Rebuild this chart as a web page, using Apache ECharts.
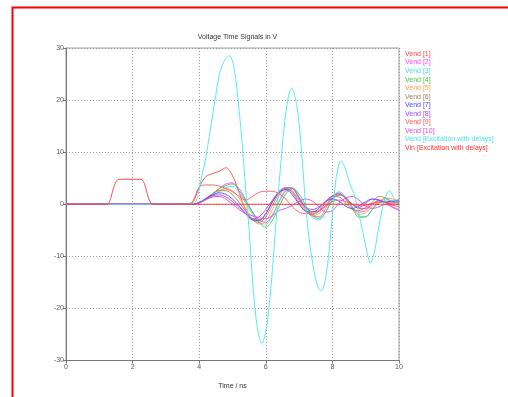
<!DOCTYPE html>
<html><head><meta charset="utf-8">
<script src="https://cdn.jsdelivr.net/npm/echarts@6/dist/echarts.min.js"></script>
<style>html,body{margin:0;padding:0;background:#fff}#c{width:508px;height:397px}</style>
</head><body><div id="c"></div>
<script>
const FONT = "'Liberation Sans',Arial,sans-serif";
const titleText = 'Voltage Time Signals in V';
const xName = 'Time / ns';
const xTicks = [0, 2, 4, 6, 8, 10];
const yTicks = [-30, -20, -10, 0, 10, 20, 30];
const seriesNames = ['Vend [1]','Vend [2]','Vend [3]','Vend [4]','Vend [5]','Vend [6]','Vend [7]','Vend [8]','Vend [9]','Vend [10]','Vend [Excitation with delays]','Vin [Excitation with delays]'];
const seriesColors = ['#ff4848','#ff48ff','#48e0e0','#48c848','#ffa048','#a88058','#4848ff','#a048ff','#ff5858','#e048e0','#48e8e8','#ff3030'];

// time grid (ns) for Vend [1..10]
const tVend = [0,3.6,3.8,4.0,4.2,4.4,4.6,4.8,5.0,5.2,5.4,5.6,5.8,6.0,6.2,6.4,6.6,6.8,7.0,7.2,7.4,7.6,7.8,8.0,8.2,8.4,8.6,8.8,9.0,9.2,9.4,9.6,9.8,10.0];
const vend1  = [0,0,0.3,3.3,5.3,5.9,6.3,7.0,5.5,2.2,-1.2,-2.9,-3.0,-1.8,0.5,2.2,3.0,2.4,0.8,-0.6,-1.4,-1.3,-0.2,1.2,1.8,1.2,0.0,-0.8,-0.8,0.0,0.6,0.4,-0.2,-0.4];
const vend2  = [0,0,0,0.3,1.0,2.0,3.0,3.9,4.1,2.6,0.5,-1.5,-3.0,-3.5,-2.0,0.5,2.5,3.0,1.2,-1.0,-2.2,-2.4,-0.8,1.5,2.2,1.0,-0.6,-1.5,-1.2,0.0,0.8,0.3,-0.6,-1.2];
const vend3  = [0,0,0,0.2,0.8,1.6,2.4,3.2,3.4,2.2,0.2,-2.0,-3.6,-3.8,-2.2,0.6,2.8,3.2,1.5,-0.8,-2.5,-3.0,-1.5,1.2,2.4,1.5,-0.5,-2.2,-2.4,-1.0,0.5,1.0,0.6,0.3];
const vend4  = [0,0,0,0.3,1.0,2.0,3.0,3.6,3.9,3.0,0.8,-1.5,-3.5,-4.4,-3.0,-0.5,2.0,3.0,2.0,-0.3,-2.2,-2.7,-1.5,0.8,1.8,1.2,-0.8,-2.5,-2.4,-1.0,0.3,0.6,0.5,0.5];
const vend5  = [0,0,0,0.3,1.1,2.0,2.7,3.0,2.6,1.2,-0.8,-2.8,-3.8,-3.2,-1.0,1.5,3.0,2.6,0.8,-1.2,-2.2,-1.8,-0.3,1.5,2.0,1.0,-0.8,-1.9,-1.6,-0.5,0.5,1.2,1.0,0.8];
const vend6  = [0,0,0,0.3,1.1,2.0,2.6,2.6,1.8,0.4,-1.4,-3.0,-3.5,-2.4,-0.2,2.0,3.0,2.2,0.2,-1.5,-2.0,-1.3,0.3,1.5,1.4,0.2,-1.0,-1.2,-0.6,0.4,1.5,1.2,0.4,0.3];
const vend7  = [0,0,0,0.3,1.1,1.8,2.2,1.9,1.0,-0.3,-1.8,-3.0,-3.1,-1.8,0.5,2.3,2.8,1.8,0.0,-1.3,-1.5,-0.8,0.5,1.0,0.6,-0.4,-0.8,-0.3,0.5,1.0,0.8,0.4,0.6,0.8];
const vend8  = [0,0,0,0.3,1.0,1.6,1.8,1.4,0.5,-0.6,-1.9,-2.8,-2.4,-1.0,0.8,2.5,3.2,3.0,1.2,-0.6,-1.0,-0.5,0.6,1.6,2.0,1.2,0.0,-0.6,0.2,1.0,0.8,0.3,0.5,0.4];
const vend9  = [0,0,0.5,3.3,3.7,3.7,3.5,3.0,2.4,1.5,0.8,1.5,2.3,2.5,2.5,2.0,1.0,-0.5,-1.5,-1.8,-1.8,-1.2,-0.3,0.5,0.8,0.5,0.0,-0.3,-0.2,0.2,0.4,0.3,0.1,0.0];
const vend10 = [0,0,0,0.3,0.9,1.4,1.5,1.0,0.0,-1.0,-1.8,-2.2,-2.6,-2.8,-2.2,-1.2,-0.8,-0.2,0.6,1.0,0.6,-0.5,-1.5,-1.2,0.2,1.2,1.5,0.8,-0.3,-0.8,-0.5,0.0,-0.5,-1.0];

// Vend [Excitation with delays]
const tExc = [0,3.7,3.9,4.0,4.05,4.2,4.4,4.6,4.7,4.8,4.9,5.0,5.1,5.2,5.3,5.4,5.5,5.6,5.7,5.8,5.88,6.0,6.1,6.2,6.3,6.4,6.5,6.6,6.7,6.78,6.9,7.0,7.1,7.2,7.3,7.4,7.5,7.6,7.68,7.8,7.9,8.0,8.1,8.2,8.25,8.35,8.45,8.55,8.65,8.75,8.85,8.95,9.05,9.14,9.25,9.35,9.45,9.55,9.65,9.72,9.8,9.9,10.0];
const vExc = [0,0,0.5,3.0,4.6,9.0,17.0,24.8,26.8,28.0,28.5,27.5,24.0,18.0,11.0,2.5,-5.0,-14.5,-21.5,-25.5,-26.7,-24.5,-19.5,-12.5,-4.0,4.0,11.5,17.5,21.3,22.3,20.0,15.5,8.0,-0.5,-6.5,-11.0,-14.5,-16.3,-16.6,-14.0,-9.0,-2.0,4.5,7.8,8.3,7.5,5.5,3.5,2.0,-0.5,-3.5,-6.5,-9.5,-11.3,-9.5,-6.0,-2.5,0.5,2.2,2.6,1.8,0.5,-0.3];

// Vin [Excitation with delays]
const tVin = [0,1.25,1.3,1.35,1.4,1.45,1.5,1.55,1.6,2.25,2.3,2.35,2.4,2.45,2.5,2.55,2.6,10.0];
const vVin = [0,0,0.4,1.3,2.5,3.6,4.3,4.7,4.8,4.8,4.6,4.0,3.0,1.8,0.8,0.2,0,0];

const vendValues = [vend1,vend2,vend3,vend4,vend5,vend6,vend7,vend8,vend9,vend10];

const chart = echarts.init(document.getElementById('c'), null, {renderer:'canvas'});
const pair = (ts, vs) => ts.map((t, i) => [t, vs[i]]);
const series = [];
vendValues.forEach((vs, i) => {
  series.push({name: seriesNames[i], type:'line', data: pair(tVend, vs), smooth: 0.35,
    showSymbol:false, symbol:'none', lineStyle:{width:1, color: seriesColors[i], opacity:0.9}, itemStyle:{color: seriesColors[i]}, z: 2});
});
series.push({name: seriesNames[10], type:'line', data: pair(tExc, vExc), smooth: 0.3,
  showSymbol:false, symbol:'none', lineStyle:{width:1, color: seriesColors[10], opacity:0.9}, itemStyle:{color: seriesColors[10]}, z: 3});
series.push({name: seriesNames[11], type:'line', data: pair(tVin, vVin), smooth: 0.2,
  showSymbol:false, symbol:'none', lineStyle:{width:1, color: seriesColors[11], opacity:0.9}, itemStyle:{color: seriesColors[11]}, z: 3});

chart.setOption({
  animation:false,
  backgroundColor:'#fff',
  title:{text: titleText, left: 232.5, top: 29, textAlign:'center',
    textStyle:{fontFamily: FONT, fontSize: 7, fontWeight:'normal', color:'#333'}},
  legend:{orient:'vertical', left: 395, top: 45, itemWidth: 0, itemHeight: 8, itemGap: 0.55,
    icon:'rect', selectedMode:false,
    data: seriesNames.map((n, i) => ({name:n, textStyle:{color: seriesColors[i]}})),
    textStyle:{fontFamily: FONT, fontSize: 7, lineHeight: 8}},
  grid:{left:66, right:109, top:48, bottom:36.5, show:true, borderColor:'#a0a0a0', borderWidth:1, backgroundColor:'#fff'},
  xAxis:{type:'value', min: xTicks[0], max: xTicks[xTicks.length-1], interval: 2,
    name: xName, nameLocation:'middle', nameGap: 22,
    nameTextStyle:{fontFamily: FONT, fontSize: 7, color:'#333'},
    axisLine:{show:true, onZero:false, lineStyle:{color:'#777', width:1}},
    axisTick:{show:true, length:3, lineStyle:{color:'#777'}},
    axisLabel:{fontFamily: FONT, fontSize: 7, color:'#555', margin: 3},
    splitLine:{show:true, lineStyle:{color:'#999', type:[1,2], width:1}}},
  yAxis:{type:'value', min: yTicks[0], max: yTicks[yTicks.length-1], interval: 10,
    axisLine:{show:true, onZero:false, lineStyle:{color:'#777', width:1}},
    axisTick:{show:true, length:3, lineStyle:{color:'#777'}},
    axisLabel:{fontFamily: FONT, fontSize: 7, color:'#555', margin: 2},
    splitLine:{show:true, lineStyle:{color:'#999', type:[1,2], width:1}}},
  graphic:[{type:'rect', shape:{x:12.5, y:7.5, width:600, height:500}, silent:true,
    style:{fill:'none', stroke:'#ff0000', lineWidth:2}, z:100}],
  series: series
});
</script></body></html>
